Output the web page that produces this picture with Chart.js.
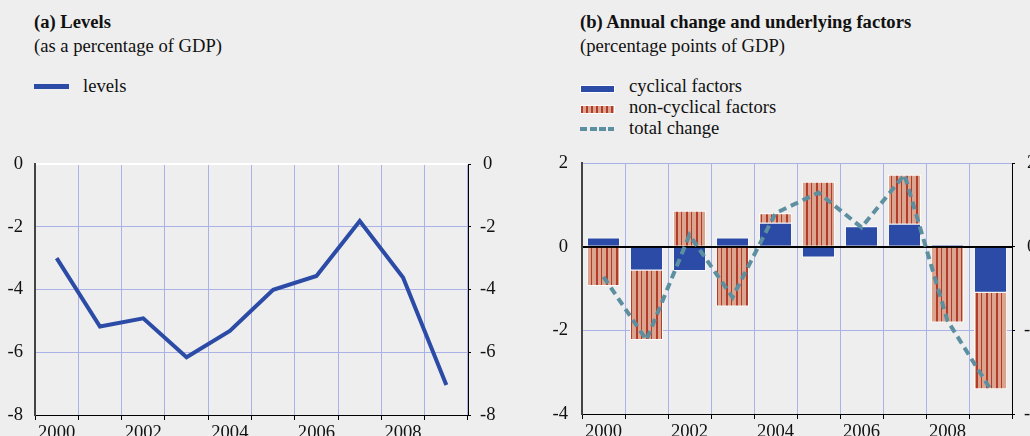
<!DOCTYPE html>
<html>
<head>
<meta charset="utf-8">
<script src="https://cdn.jsdelivr.net/npm/chart.js@4/dist/chart.umd.min.js"></script>
<style>
  html, body { margin: 0; padding: 0; }
  body {
    width: 1030px; height: 436px; overflow: hidden; position: relative;
    background: #eeeeee; color: #111;
    font-family: "Liberation Serif", "Times New Roman", Times, serif;
  }
  .txt { position: absolute; font-size: 18.6px; line-height: 20px; white-space: nowrap; }
  .bold { font-weight: bold; }
  .sw { position: absolute; }
  .panel { position: absolute; top: 150px; height: 300px; }
</style>
</head>
<body>
<div class="txt bold" style="left:34px; top:12px;">(a) Levels</div>
<div class="txt" style="left:34px; top:36px;">(as a percentage of GDP)</div>
<div class="sw" style="left:34px; top:84px; width:35px; height:5px; background:#2b4ba6;"></div>
<div class="txt" style="left:83px; top:76px;">levels</div>

<div class="txt bold" style="left:580px; top:12px;">(b) Annual change and underlying factors</div>
<div class="txt" style="left:580px; top:36px;">(percentage points of GDP)</div>
<div class="sw" style="left:580px; top:85px; width:33px; height:6px; background:#2b4ba6; border:1px solid #fff;"></div>
<div class="txt" style="left:629px; top:76px;">cyclical factors</div>
<div class="sw" style="left:580px; top:105px; width:33px; height:7px; border:1px solid #fff;
  background: repeating-linear-gradient(90deg, #b23b2a 0 2px, #dba48f 2px 5px);"></div>
<div class="txt" style="left:629px; top:97px;">non-cyclical factors</div>
<div class="sw" style="left:580px; top:127px; width:34px; height:4px;
  background: repeating-linear-gradient(90deg, #5c8fa0 0 7px, transparent 7px 9.5px);"></div>
<div class="txt" style="left:629px; top:118px;">total change</div>

<div class="panel" style="left:0; width:515px;"><canvas id="levels"></canvas></div>
<div class="panel" style="left:515px; width:560px;"><canvas id="factors"></canvas></div>

<script>
const years = ["2000", "2001", "2002", "2003", "2004", "2005", "2006", "2007", "2008", "2009"];

// panel (a): balance in % of GDP
const levels = [-3.0, -5.18, -4.92, -6.16, -5.32, -4.01, -3.57, -1.82, -3.62, -7.04];

// panel (b): change split into cyclical and non-cyclical parts
const cyclical = [0.22, -0.57, -0.58, 0.22, 0.57, -0.26, 0.49, 0.55, 0.04, -1.10];
const nonCyclical = [-0.94, -1.66, 0.86, -1.43, 0.23, 1.55, -0.03, 1.17, -1.81, -2.31];
const totalChange = [-0.72, -2.23, 0.28, -1.21, 0.80, 1.29, 0.46, 1.72, -1.77, -3.41];

const levelTicks = [0, -2, -4, -6, -8];
const changeTicks = [2, 0, -2, -4];

const blue = "#2b4ba6";
const gridBlue = "#a9b1e6";
const teal = "#5c8fa0";

Chart.defaults.font.family = "'Liberation Serif', 'Times New Roman', Times, serif";
Chart.defaults.font.size = 18.6;
Chart.defaults.color = "#111";
Chart.defaults.animation = false;

const makeStripes = () => {
  const c = document.createElement("canvas");
  c.width = 10;
  c.height = 10;
  const g = c.getContext("2d");
  g.fillStyle = "#dba48f";
  g.fillRect(0, 0, 10, 10);
  g.fillStyle = "#b23b2a";
  g.fillRect(1, 0, 2, 10);
  g.fillRect(6, 0, 1, 10);
  return g.createPattern(c, "repeat");
};

// pin axis sizes so the plot areas land where they should
const fixWidth = (w) => (scale) => {
  scale.width = w;
  scale.paddingTop = 0;
  scale.paddingBottom = 0;
};
const fixHeight = (h) => (scale) => {
  scale.height = h;
  scale.paddingLeft = 0;
  scale.paddingRight = 0;
};

const xAxis = (height) => ({
  type: "category",
  offset: true,
  grid: { offset: true, color: gridBlue, tickColor: "#000", tickLength: 5, lineWidth: 1 },
  border: { color: "#000", width: 1 },
  ticks: {
    autoSkip: false, maxRotation: 0, padding: 2,
    callback: (v, i) => (i % 2 === 0 ? years[i] : ""),
  },
  afterFit: fixHeight(height),
});

const leftAxis = (ticks, width, padding, gridColour, gridWidth) => ({
  position: "left",
  min: Math.min(...ticks), max: Math.max(...ticks),
  afterBuildTicks: (scale) => { scale.ticks = ticks.map((v) => ({ value: v })); },
  grid: { color: gridColour, lineWidth: gridWidth, drawTicks: false },
  border: { color: "#444", width: 2 },
  ticks: { padding: padding },
  afterFit: fixWidth(width),
});

const rightAxis = (ticks, width) => ({
  position: "right",
  min: Math.min(...ticks), max: Math.max(...ticks),
  afterBuildTicks: (scale) => { scale.ticks = ticks.map((v) => ({ value: v })); },
  grid: { drawOnChartArea: false, tickLength: 3, tickColor: "#000" },
  border: { color: "#000", width: 1 },
  ticks: { padding: 9, crossAlign: "center" },
  afterFit: fixWidth(width),
});

new Chart(document.getElementById("levels"), {
  type: "line",
  data: {
    labels: years,
    datasets: [{
      label: "levels",
      data: levels,
      borderColor: blue,
      borderWidth: 4,
      pointRadius: 0,
      tension: 0,
    }],
  },
  options: {
    responsive: true,
    maintainAspectRatio: false,
    layout: { padding: { top: 14, left: 0, right: 0, bottom: 0 } },
    plugins: { legend: { display: false }, tooltip: { enabled: false } },
    scales: {
      x: xAxis(35),
      y: leftAxis(levelTicks, 35, 12,
        (ctx) => (ctx.tick.value === 0 ? "#ffffff" : gridBlue),
        (ctx) => (ctx.tick.value === 0 ? 2 : 1)),
      y2: rightAxis(levelTicks, 47),
    },
  },
});

new Chart(document.getElementById("factors"), {
  type: "bar",
  data: {
    labels: years,
    datasets: [
      {
        type: "line",
        label: "total change",
        data: totalChange,
        stack: "total",
        borderColor: teal,
        borderWidth: 4,
        borderDash: [8, 5],
        pointRadius: 0,
        tension: 0,
      },
      {
        label: "cyclical factors",
        data: cyclical,
        stack: "factors",
        backgroundColor: blue,
        borderColor: "#ffffff",
        borderWidth: 1,
        barPercentage: 0.77,
        categoryPercentage: 1,
      },
      {
        label: "non-cyclical factors",
        data: nonCyclical,
        stack: "factors",
        backgroundColor: makeStripes(),
        borderColor: "#ffffff",
        borderWidth: 1,
        barPercentage: 0.77,
        categoryPercentage: 1,
      },
    ],
  },
  options: {
    responsive: true,
    maintainAspectRatio: false,
    layout: { padding: { top: 13, left: 0, right: 0, bottom: 0 } },
    plugins: { legend: { display: false }, tooltip: { enabled: false } },
    scales: {
      x: { ...xAxis(36), stacked: true },
      y: {
        ...leftAxis(changeTicks, 67, 14,
          (ctx) => (ctx.tick.value === 0 ? "#000000" : gridBlue),
          (ctx) => (ctx.tick.value === 0 ? 2 : 1)),
        stacked: true,
      },
      y2: rightAxis(changeTicks, 63),
    },
  },
});
</script>
</body>
</html>
